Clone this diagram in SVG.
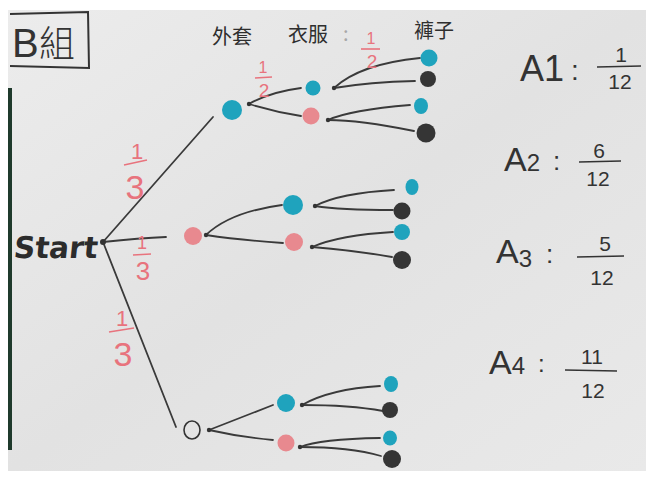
<svg xmlns="http://www.w3.org/2000/svg" width="654" height="478" viewBox="0 0 654 478">
<defs>
<linearGradient id="paper" x1="0" y1="0" x2="1" y2="1">
<stop offset="0" stop-color="#ececec"/>
<stop offset="0.5" stop-color="#e2e2e2"/>
<stop offset="1" stop-color="#e9e9e9"/>
</linearGradient>
</defs>
<style>
.ln{fill:none;stroke:#3a3a3a;stroke-width:1.8;stroke-linecap:round}
.dot{fill:#333}
.blue{fill:#1fa3bd}
.pink{fill:#e8898f}
.blk{fill:#353535}
.open{fill:none;stroke:#333;stroke-width:1.6}
.red{font-family:"Liberation Sans",sans-serif;fill:#e8737d;text-anchor:middle;font-weight:300}
.redln{stroke:#e8737d;stroke-width:1.6}
.hd{font-family:"Noto Sans CJK TC","Noto Sans CJK SC",sans-serif;font-size:20px;fill:#2e2e2e}
.lab{font-family:"Liberation Sans",sans-serif;fill:#333;font-weight:300}
.num{font-family:"Liberation Sans",sans-serif;font-size:21px;fill:#333;text-anchor:middle}
.fl{stroke:#333;stroke-width:1.7}
</style>
<rect width="654" height="478" fill="#ffffff"/>
<rect x="8" y="10" width="638" height="461" fill="url(#paper)"/>
<rect x="8" y="88" width="4" height="362" fill="#1f3a2c"/>

<g id="title">
<path d="M10 14 L88 12 L89 68 L10 66" fill="none" stroke="#333" stroke-width="2"/>
<text x="12" y="57" font-family="Liberation Sans,sans-serif" font-size="40" fill="#333" font-weight="300">B</text>
<text x="39" y="57" font-family="Noto Sans CJK TC,sans-serif" font-size="36" fill="#333" font-weight="300">組</text>
</g>

<g id="headers">
<text class="hd" x="212" y="44">外套</text>
<text class="hd" x="288" y="42">衣服</text>
<text class="hd" x="343" y="41" style="fill:#a8a8a8">:</text>
<text class="hd" x="414" y="38">褲子</text>
</g>

<g id="connectors">
<path class="ln" d="M103 242 L213 117"/>
<path class="ln" d="M103 242 Q140 238 166 237"/>
<path class="ln" d="M103 242 L176 427"/>
<path class="ln" d="M249 104 Q270 92 301 88"/>
<path class="ln" d="M249 104 Q275 112 301 116"/>
<path class="ln" d="M334 88 Q360 64 420 58"/>
<path class="ln" d="M334 88 Q370 82 415 81"/>
<path class="ln" d="M328 120 Q350 110 410 105"/>
<path class="ln" d="M328 120 Q360 120 414 131"/>
<path class="ln" d="M206 235 Q230 212 282 205"/>
<path class="ln" d="M206 235 Q240 240 283 243"/>
<path class="ln" d="M315 206 Q340 193 394 190"/>
<path class="ln" d="M315 206 Q340 210 393 210"/>
<path class="ln" d="M312 247 Q340 235 393 232"/>
<path class="ln" d="M312 247 Q350 250 392 257"/>
<path class="ln" d="M209 430 L273 405"/>
<path class="ln" d="M209 430 Q240 437 273 440"/>
<path class="ln" d="M302 405 Q330 389 380 386"/>
<path class="ln" d="M302 405 Q350 405 383 411"/>
<path class="ln" d="M300 447 Q320 439 380 438"/>
<path class="ln" d="M300 447 Q350 447 381 456"/>
</g>

<g id="probabilities">
<g id="p-top"><text class="red" x="137" y="159" style="font-size:22px">1</text><line class="redln" x1="124" y1="165" x2="147" y2="160"/><text class="red" x="135" y="199" style="font-size:34px">3</text></g>
<g id="p-mid"><text class="red" x="142" y="249" style="font-size:18px">1</text><line class="redln" x1="133" y1="255" x2="151" y2="254"/><text class="red" x="143" y="280" style="font-size:26px">3</text></g>
<g id="p-bot"><text class="red" x="122" y="326" style="font-size:22px">1</text><line class="redln" x1="109" y1="332" x2="134" y2="328"/><text class="red" x="123" y="366" style="font-size:34px">3</text></g>
<g id="p-half1"><text class="red" x="263" y="73" style="font-size:16px">1</text><line class="redln" x1="255" y1="78" x2="272" y2="77"/><text class="red" x="264" y="97" style="font-size:19px">2</text></g>
<g id="p-half2"><text class="red" x="371" y="44" style="font-size:16px">1</text><line class="redln" x1="361" y1="49" x2="380" y2="49"/><text class="red" x="372" y="68" style="font-size:19px">2</text></g>
</g>

<g id="start">
<text x="14" y="258" font-family="DejaVu Sans,sans-serif" font-size="30" font-weight="bold" fill="#2c2c2c" textLength="84" lengthAdjust="spacingAndGlyphs" transform="skewX(-6) translate(26 0)">Start</text>
<circle class="dot" cx="103" cy="242" r="3"/>
</g>

<g id="n1-blue"><circle class="blue" cx="232" cy="110" r="10"/><circle class="dot" cx="249" cy="104" r="2.2"/></g>
<g id="n1-pink"><circle class="pink" cx="193" cy="236" r="9"/><circle class="dot" cx="206" cy="235" r="2.2"/></g>
<g id="n1-open"><ellipse class="open" cx="192" cy="430" rx="8" ry="9"/><circle class="dot" cx="209" cy="430" r="2.2"/></g>

<g id="n2-bb"><circle class="blue" cx="313" cy="88" r="7.5"/><circle class="dot" cx="334" cy="88" r="2.2"/></g>
<g id="n2-bp"><circle class="pink" cx="311" cy="116" r="8.5"/><circle class="dot" cx="328" cy="120" r="2.2"/></g>
<g id="n2-pb"><circle class="blue" cx="293" cy="205" r="10"/><circle class="dot" cx="315" cy="206" r="2.2"/></g>
<g id="n2-pp"><circle class="pink" cx="294" cy="242" r="9"/><circle class="dot" cx="312" cy="247" r="2.2"/></g>
<g id="n2-ob"><circle class="blue" cx="286" cy="403" r="9"/><circle class="dot" cx="302" cy="405" r="2.2"/></g>
<g id="n2-op"><circle class="pink" cx="286" cy="443" r="8.5"/><circle class="dot" cx="300" cy="447" r="2.2"/></g>

<g id="n3-1"><circle class="blue" cx="429" cy="58" r="8.5"/></g>
<g id="n3-2"><circle class="blk" cx="428" cy="79" r="8"/></g>
<g id="n3-3"><ellipse class="blue" cx="421" cy="106" rx="7" ry="8"/></g>
<g id="n3-4"><circle class="blk" cx="426" cy="133" r="9.5"/></g>
<g id="n3-5"><ellipse class="blue" cx="412" cy="187" rx="6.5" ry="8"/></g>
<g id="n3-6"><circle class="blk" cx="402" cy="211" r="8.5"/></g>
<g id="n3-7"><circle class="blue" cx="402" cy="232" r="8"/></g>
<g id="n3-8"><circle class="blk" cx="402" cy="260" r="9"/></g>
<g id="n3-9"><ellipse class="blue" cx="391" cy="384" rx="7" ry="8"/></g>
<g id="n3-10"><circle class="blk" cx="390" cy="410" r="8"/></g>
<g id="n3-11"><ellipse class="blue" cx="390" cy="438" rx="7" ry="7.5"/></g>
<g id="n3-12"><circle class="blk" cx="392" cy="459" r="9"/></g>

<g id="A1">
<text class="lab" x="520" y="81" font-size="36">A1</text>
<text class="lab" x="571" y="80" font-size="28">:</text>
<text class="num" x="621" y="62">1</text>
<line class="fl" x1="597" y1="67" x2="641" y2="66"/>
<text class="num" x="620" y="89">12</text>
</g>
<g id="A2">
<text class="lab" x="504" y="171" font-size="34">A<tspan font-size="24">2</tspan></text>
<text class="lab" x="553" y="170" font-size="26">:</text>
<text class="num" x="599" y="158">6</text>
<line class="fl" x1="579" y1="162" x2="621" y2="161"/>
<text class="num" x="598" y="186">12</text>
</g>
<g id="A3">
<text class="lab" x="496" y="263" font-size="34">A<tspan font-size="24" dy="4">3</tspan></text>
<text class="lab" x="546" y="263" font-size="26">:</text>
<text class="num" x="605" y="251">5</text>
<line class="fl" x1="577" y1="257" x2="624" y2="256"/>
<text class="num" x="602" y="285">12</text>
</g>
<g id="A4">
<text class="lab" x="489" y="374" font-size="34">A<tspan font-size="24">4</tspan></text>
<text class="lab" x="538" y="372" font-size="24">:</text>
<text class="num" x="592" y="364">11</text>
<line class="fl" x1="565" y1="370" x2="617" y2="371"/>
<text class="num" x="593" y="398">12</text>
</g>
</svg>
